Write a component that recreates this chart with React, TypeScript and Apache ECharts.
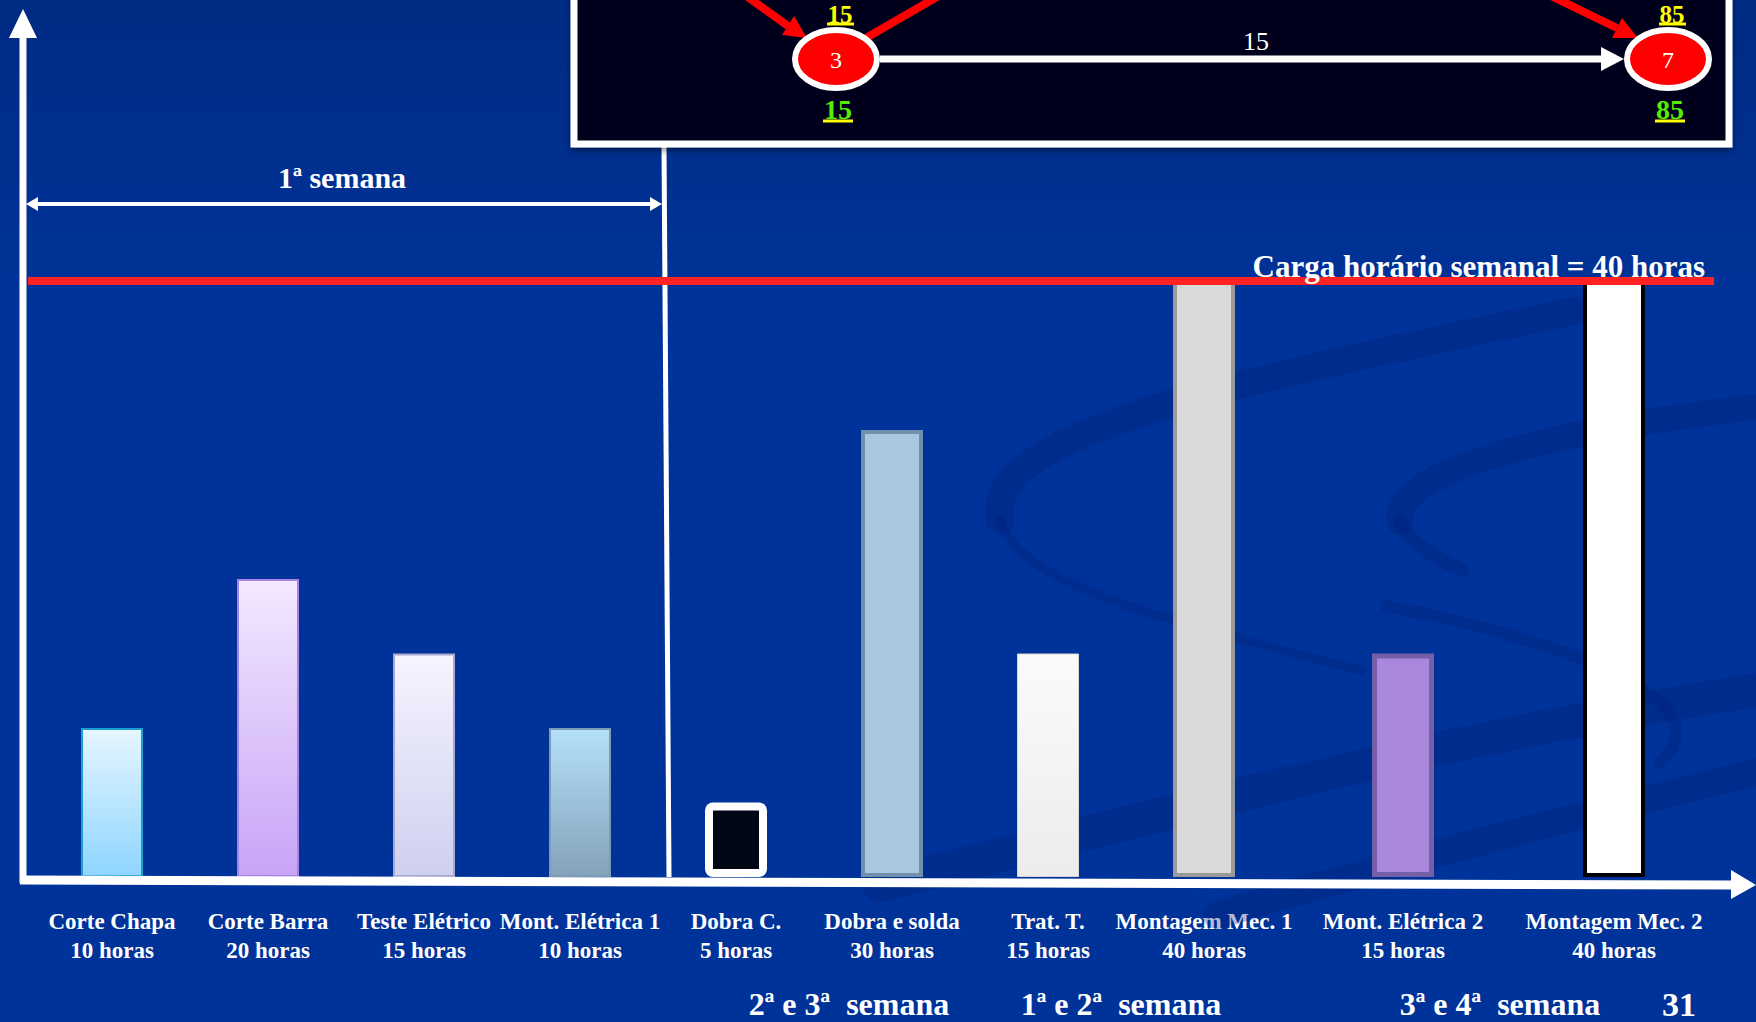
import React, { useEffect, useRef } from "react";
import * as echarts from "echarts";

// ---- data ----
const categories = [
  "Corte Chapa",
  "Corte Barra",
  "Teste Elétrico",
  "Mont. Elétrica 1",
  "Dobra C.",
  "Dobra e solda",
  "Trat. T.",
  "Montagem Mec. 1",
  "Mont. Elétrica 2",
  "Montagem Mec. 2",
];
const hours = [10, 20, 15, 10, 5, 30, 15, 40, 15, 40];
// tasks from this index on (3ª e 4ª semana) are drawn in a second, wider panel
const lateTaskStart = 8;
const weeklyCapacity = 40;
const capacityLabel = "Carga horário semanal = 40 horas";
const firstWeekLabel = "1ª semana";
const weekGroupLabels = ["2ª e 3ª  semana", "1ª e 2ª  semana", "3ª e 4ª  semana"];
const pageNumber = "31";
const networkNodes = ["3", "7"];
const networkEarly = [15, 85];
const networkLate = [15, 85];
const networkEdgeDuration = 15;

// ---- styles ----
const FONT = "'Liberation Serif', 'Times New Roman', Times, serif";
const grad = (a: string, b: string) =>
  new echarts.graphic.LinearGradient(0, 0, 0, 1, [
    { offset: 0, color: a },
    { offset: 1, color: b },
  ]);
const barStyles = [
  { color: grad("#e6f6ff", "#8ed5ff"), borderColor: "#1b9fd2", borderWidth: 2 },
  { color: grad("#f3e9ff", "#c8a4f7"), borderColor: "#a584e6", borderWidth: 2 },
  { color: grad("#f5f4ff", "#cfd0ef"), borderColor: "#a9a9d0", borderWidth: 2 },
  { color: grad("#b4e0fa", "#84a3ba"), borderColor: "#7b9bb6", borderWidth: 2 },
  { color: "#000614", borderColor: "#ffffff", borderWidth: 8, borderRadius: 4 },
  { color: "#a9c8e0", borderColor: "#6f8fad", borderWidth: 4 },
  { color: grad("#fbfbfb", "#ececec"), borderColor: "#d6d6d6", borderWidth: 1 },
  { color: "#d9d9d9", borderColor: "#9a9a9a", borderWidth: 4 },
  { color: "#a887dd", borderColor: "#7460a8", borderWidth: 5 },
  { color: "#ffffff", borderColor: "#000000", borderWidth: 4 },
];

export default function App() {
  const ref = useRef<HTMLDivElement>(null);

  useEffect(() => {
    if (!ref.current) return;
    const chart = echarts.init(ref.current, undefined, { renderer: "svg" });

    const groups = [
      { cats: categories.slice(0, lateTaskStart), vals: hours.slice(0, lateTaskStart), styles: barStyles.slice(0, lateTaskStart) },
      { cats: categories.slice(lateTaskStart), vals: hours.slice(lateTaskStart), styles: barStyles.slice(lateTaskStart) },
    ];
    const grids = [
      { left: 34, right: 474, top: 281, bottom: 145 },
      { left: 1297.5, right: 36.5, top: 281, bottom: 145 },
    ];

    chart.setOption({
      animation: false,
      backgroundColor: new echarts.graphic.LinearGradient(0, 0, 0, 1, [
        { offset: 0, color: "#002b84" },
        { offset: 0.3, color: "#003399" },
        { offset: 1, color: "#003399" },
      ]),
      grid: grids,
      xAxis: groups.map((g, gi) => ({
        type: "category",
        gridIndex: gi,
        data: g.cats,
        axisLine: { show: false },
        axisTick: { show: false },
        splitLine: { show: false },
        axisLabel: {
          interval: 0,
          color: "#ffffff",
          fontFamily: FONT,
          fontWeight: "bold",
          fontSize: 23,
          lineHeight: 29,
          margin: 30,
          formatter: (v: string, i: number) => `${v}\n${g.vals[i]} horas`,
        },
      })),
      yAxis: groups.map((_, gi) => ({
        type: "value",
        gridIndex: gi,
        min: 0,
        max: weeklyCapacity,
        show: false,
        splitLine: { show: false },
      })),
      series: groups.map((g, gi) => ({
        type: "bar",
        xAxisIndex: gi,
        yAxisIndex: gi,
        barWidth: 62,
        z: 3,
        data: g.vals.map((v, i) => ({ value: v, itemStyle: g.styles[i] })),
      })),
    });

    const px = (i: number) =>
      chart.convertToPixel({ xAxisIndex: 0 }, categories[i]) as number;
    const sepX = (px(3) + px(4)) / 2 + 6;
    const capY = chart.convertToPixel({ yAxisIndex: 0 }, weeklyCapacity) as number;
    const baseY = chart.convertToPixel({ yAxisIndex: 0 }, 0) as number;

    const swirl = "rgba(0,30,120,0.3)";
    const bz = (x1: number, y1: number, cx1: number, cy1: number, cx2: number, cy2: number, x2: number, y2: number, w: number) => ({
      type: "bezierCurve",
      z: 1,
      silent: true,
      shape: { x1, y1, cpx1: cx1, cpy1: cy1, cpx2: cx2, cpy2: cy2, x2, y2 },
      style: { stroke: swirl, lineWidth: w, fill: "none", lineCap: "round" },
    });

    const txt = (text: string, x: number, y: number, size: number, extra: any = {}) => ({
      type: "text",
      z: 30,
      style: {
        text,
        x,
        y,
        fill: "#ffffff",
        fontFamily: FONT,
        fontSize: size,
        align: "center",
        verticalAlign: "middle",
        ...extra,
      },
    });

    const line = (x1: number, y1: number, x2: number, y2: number, color: string, w: number, z = 25) => ({
      type: "line",
      z,
      shape: { x1, y1, x2, y2 },
      style: { stroke: color, lineWidth: w },
    });
    const poly = (points: number[][], color: string, z = 25) => ({
      type: "polygon",
      z,
      shape: { points },
      style: { fill: color },
    });

    const nodeX = [836, 1668];
    const nodeY = 59;

    const graphic: any[] = [
      // background swirls
      bz(1574, 311, 1250, 380, 980, 430, 1000, 520, 28),
      bz(1000, 520, 1020, 585, 1150, 615, 1362, 671, 9),
      bz(1756, 407, 1560, 430, 1390, 470, 1400, 522, 26),
      bz(1400, 522, 1410, 545, 1440, 560, 1462, 570, 14),
      bz(1386, 606, 1560, 640, 1730, 700, 1660, 762, 12),
      bz(880, 885, 1150, 820, 1400, 745, 1756, 690, 34),
      bz(1217, 915, 1400, 862, 1550, 822, 1756, 772, 28),

      // capacity line and label
      line(28, capY, 1714, capY, "#ff2222", 8, 20),
      txt(capacityLabel, 1705, capY + 1, 31, { align: "right", verticalAlign: "bottom", fontWeight: "bold" }),

      // separator for first week
      line(sepX, 146, sepX + 5, baseY, "#ffffff", 5, 18),

      // first week double arrow
      line(36, 204, sepX - 12, 204, "#ffffff", 4, 18),
      poly([[26, 204], [38, 197], [38, 211]], "#ffffff", 18),
      poly([[sepX - 2, 204], [sepX - 14, 197], [sepX - 14, 211]], "#ffffff", 18),
      txt(firstWeekLabel, 342, 177, 30, { fontWeight: "bold" }),

      // axes with arrows
      line(23, baseY + 6, 23, 34, "#ffffff", 7, 26),
      poly([[9, 38], [23, 9], [37, 38]], "#ffffff", 26),
      line(20, baseY + 3, 1734, baseY + 8, "#ffffff", 9, 26),
      poly([[1731, baseY - 7], [1756, baseY + 8], [1731, baseY + 22]], "#ffffff", 26),

      // week group labels
      txt(weekGroupLabels[0], 849, 1004, 32, { fontWeight: "bold" }),
      txt(weekGroupLabels[1], 1121, 1004, 32, { fontWeight: "bold" }),
      txt(weekGroupLabels[2], 1500, 1004, 32, { fontWeight: "bold" }),
      txt(pageNumber, 1679, 1004, 34, { fontWeight: "bold" }),

      // network box
      {
        type: "rect",
        z: 40,
        shape: { x: 574, y: -20, width: 1155, height: 164 },
        style: {
          fill: "#00061a",
          stroke: "#ffffff",
          lineWidth: 7,
          shadowBlur: 6,
          shadowColor: "rgba(0,0,0,0.45)",
          shadowOffsetY: 3,
        },
      },
      // red arrows
      line(738, -10, 788, 26, "#ff0000", 8, 41),
      poly([[782, 35], [794, 16], [807, 38]], "#ff0000", 41),
      line(866, 38, 942, -6, "#ff0000", 8, 41),
      line(1545, -7, 1617, 28, "#ff0000", 8, 41),
      poly([[1612, 38], [1622, 18], [1638, 38]], "#ff0000", 41),
      // white arrow between nodes
      line(880, nodeY, 1603, nodeY, "#ffffff", 7, 41),
      poly([[1601, nodeY - 12], [1624, nodeY], [1601, nodeY + 12]], "#ffffff", 41),
      { ...txt(String(networkEdgeDuration), 1256, 41, 26), z: 42 },
    ];

    networkNodes.forEach((id, i) => {
      const cx = nodeX[i];
      graphic.push({
        type: "ellipse",
        z: 43,
        shape: { cx, cy: nodeY, rx: 41, ry: 29 },
        style: { fill: "#ff0000", stroke: "#ffffff", lineWidth: 6 },
      });
      graphic.push({ ...txt(id, cx, nodeY + 1, 24), z: 44 });
      // early time (top)
      graphic.push({
        ...txt(String(networkEarly[i]), cx + 4, 2, 25, {
          fill: "#ffff00",
          fontWeight: "bold",
          verticalAlign: "top",
        }),
        z: 44,
      });
      graphic.push(line(cx - 9, 24, cx + 18, 24, "#ffff00", 3, 44));
      // late time (bottom)
      graphic.push({
        ...txt(String(networkLate[i]), cx + 2, 109, 28, {
          fill: "#55ee00",
          fontWeight: "bold",
          textShadowColor: "#ffff00",
          textShadowOffsetX: 2,
          textShadowOffsetY: 0,
          textShadowBlur: 0,
        }),
        z: 44,
      });
      graphic.push(line(cx - 13, 121, cx + 17, 121, "#ffff00", 3, 44));
    });

    chart.setOption({ graphic });

    return () => chart.dispose();
  }, []);

  return (
    <div
      ref={ref}
      style={{ position: "fixed", left: 0, top: 0, width: "1756px", height: "1022px" }}
    />
  );
}
